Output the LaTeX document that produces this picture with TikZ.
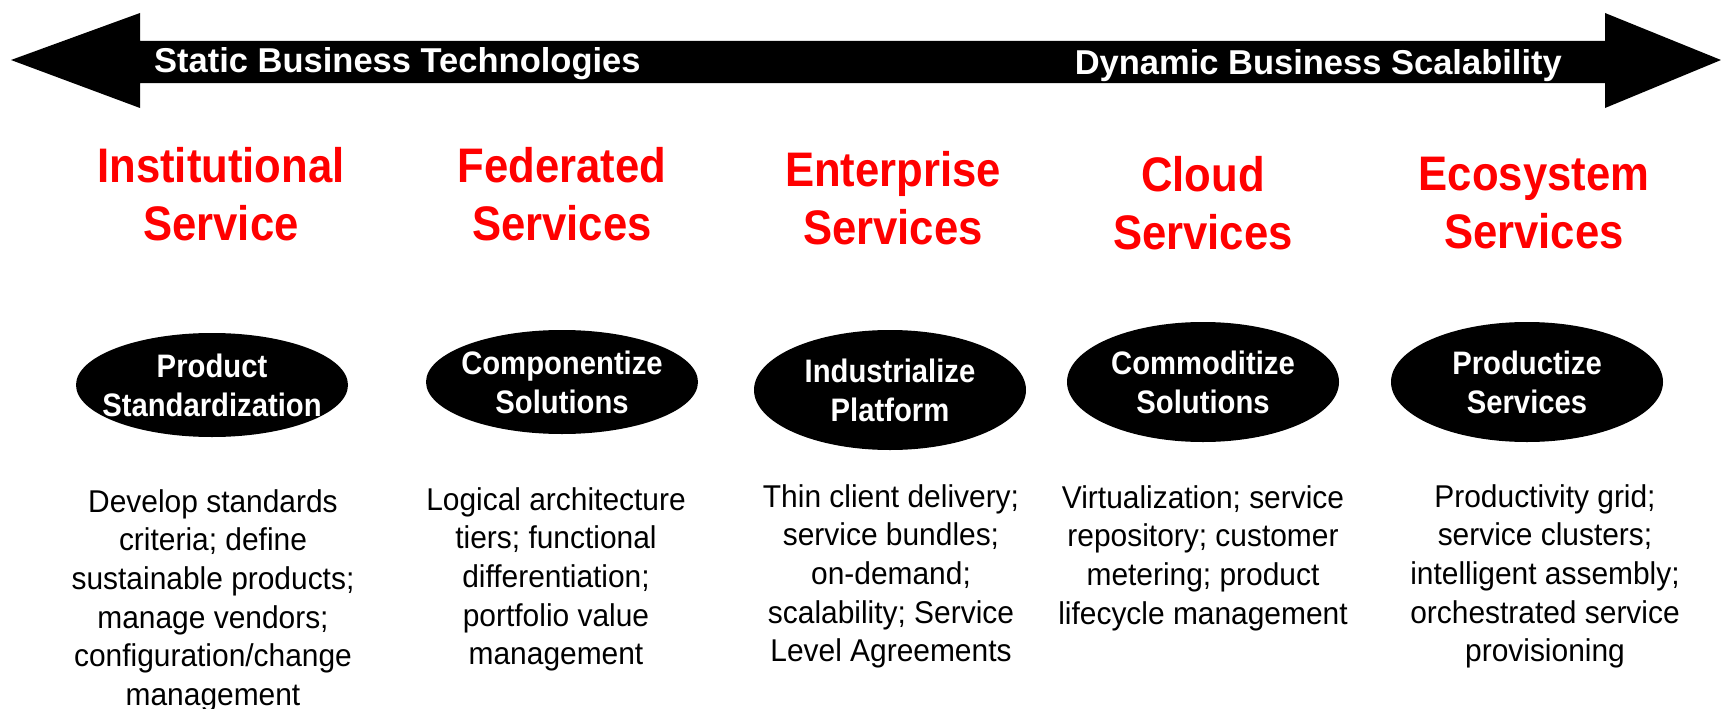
\documentclass[tikz,border=0pt]{standalone}
\usepackage{fontspec}
\setmainfont{Liberation Sans}
\newfontfamily\narrowfont[FakeStretch=0.9]{Liberation Sans}
\newfontfamily\detailfont[FakeStretch=0.95]{Liberation Sans}
\usetikzlibrary{shapes.geometric}
\definecolor{titlered}{RGB}{255,0,0}
\tikzset{
  bandarrow/.style={fill=black},
  bandlabel/.style={text=white, font=\fontsize{34.5}{40}\selectfont\bfseries, inner sep=0pt},
  phase/.style={text=titlered, align=center, anchor=north, inner sep=0pt,
    font=\narrowfont\fontsize{48.5}{58}\selectfont\bfseries},
  stage/.style={ellipse, fill=black, text=white, align=center,
    inner xsep=-60pt, inner ysep=-20pt,
    minimum width=272pt, minimum height=104pt,
    font=\narrowfont\fontsize{32.5}{39}\selectfont\bfseries},
  detail/.style={align=center, anchor=north, inner sep=0pt,
    font=\detailfont\fontsize{31.5}{38.7}\selectfont}
}
\begin{document}
\begin{tikzpicture}[x=1pt,y=-1pt]
\useasboundingbox (0,0) rectangle (1721,709);
% double-headed arrow
\fill[bandarrow] (11,60) -- (140,13) -- (140,41) -- (1605,41) -- (1605,13)
  -- (1721,60) -- (1605,108) -- (1605,83) -- (140,83) -- (140,108) -- cycle;
\node[bandlabel, anchor=west] (lbl1) at (154,64) {Static Business Technologies};
\node[bandlabel, anchor=east] (lbl2) at (1562,66) {Dynamic Business Scalability};
% titles
\node[phase] (t1) at (221,147) {Institutional\\Service};
\node[phase] (t2) at (562,147) {Federated\\Services};
\node[phase] (t3) at (893,151) {Enterprise\\Services};
\node[phase] (t4) at (1203,156) {Cloud\\Services};
\node[phase] (t5) at (1534,157) {Ecosystem\\Services};
% ellipses
\node[stage] (e1) at (212,385) {Product\\Standardization};
\node[stage] (e2) at (562,382) {Componentize\\Solutions};
\node[stage, minimum height=120pt] (e3) at (890,390) {Industrialize\\Platform};
\node[stage, minimum height=120pt] (e4) at (1203,382) {Commoditize\\Solutions};
\node[stage, minimum height=120pt] (e5) at (1527,382) {Productize\\Services};
% descriptions
\node[detail] (d1) at (213,489) {Develop standards\\criteria; define\\sustainable products;\\manage vendors;\\configuration/change\\management};
\node[detail] (d2) at (556,487) {Logical architecture\\tiers; functional\\differentiation;\\portfolio value\\management};
\node[detail] (d3) at (891,484) {Thin client delivery;\\service bundles;\\on-demand;\\scalability; Service\\Level Agreements};
\node[detail] (d4) at (1203,485) {Virtualization; service\\repository; customer\\metering; product\\lifecycle management};
\node[detail] (d5) at (1545,484) {Productivity grid;\\service clusters;\\intelligent assembly;\\orchestrated service\\provisioning};
\end{tikzpicture}
\end{document}
